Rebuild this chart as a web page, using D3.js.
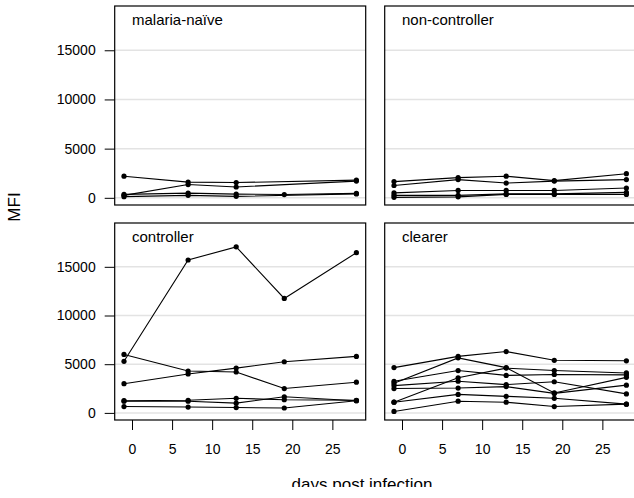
<!DOCTYPE html>
<html><head><meta charset="utf-8">
<script src="https://cdn.jsdelivr.net/npm/d3@7"></script>
<style>body{margin:0;background:#fff;} svg{display:block;font-family:"Liberation Sans",Arial,Helvetica,sans-serif;}</style>
</head><body>
<script>
const days = [-1, 7, 13, 19, 28];
const panelNames = ["malaria-naïve", "non-controller", "controller", "clearer"];
const xTicks = [0, 5, 10, 15, 20, 25];
const yTicks = [0, 5000, 10000, 15000];

const naiveSeries = [
  [2200, 1600, 1550, null, 1800],
  [250, 1350, 1100, null, 1700],
  [350, 480, 380, 330, 450],
  [120, 250, 150, null, 400]
];
const nonControllerSeries = [
  [1650, 2050, 2200, 1750, 2450],
  [1250, 1850, 1500, 1700, 1850],
  [500, 750, 750, 750, 1000],
  [250, 250, 400, 400, 550],
  [50, 100, 350, 350, 350]
];
const controllerSeries = [
  [5300, 15700, 17050, 11750, 16450],
  [6000, 4300, 4200, 2500, 3150],
  [3000, 4000, 4600, 5250, 5800],
  [1250, 1300, 1500, 1350, 1300],
  [1200, 1200, 1000, 1650, 1250],
  [650, 600, 550, 500, 1250]
];
const clearerSeries = [
  [4650, 5800, 6300, 5400, 5350],
  [3050, 5650, 4650, 2050, 3650],
  [3250, 4350, 3850, 3950, 3900],
  [1100, 3600, 4600, 4350, 4100],
  [2800, 3250, 2900, 3200, 1950],
  [2500, 2550, 2700, 2000, 2850],
  [1100, 1900, 1700, 1500, 900],
  [150, 1200, 1100, 650, 900]
];
const allSeries = [naiveSeries, nonControllerSeries, controllerSeries, clearerSeries];

const W = 634, H = 498;
const svg = d3.select("body").append("svg").attr("width", W).attr("height", H);

const cols = [[114.7, 365.7], [384.7, 635.7]];
const rows = [[205, 6], [420, 223]];
const xDomain = [-2.16, 29.16];
const yDomain = [-730, 19500];

allSeries.forEach((series, i) => {
  const c = i % 2, r = Math.floor(i / 2);
  const x = d3.scaleLinear().domain(xDomain).range(cols[c]);
  const y = d3.scaleLinear().domain(yDomain).range(rows[r]);
  const g = svg.append("g");
  // grid
  g.selectAll(".grid").data(yTicks).join("line")
    .attr("x1", cols[c][0]).attr("x2", cols[c][1])
    .attr("y1", d => y(d)).attr("y2", d => y(d))
    .attr("stroke", "#e3e3e3").attr("stroke-width", 1.5);
  // lines
  const line = d3.line().x(d => x(d[0])).y(d => y(d[1]));
  series.forEach(s => {
    const pts = days.map((d, k) => [d, s[k]]).filter(p => p[1] != null);
    g.append("path").attr("d", line(pts)).attr("fill", "none")
      .attr("stroke", "#000").attr("stroke-width", 1.1);
    g.selectAll(null).data(pts).join("circle")
      .attr("cx", p => x(p[0])).attr("cy", p => y(p[1])).attr("r", 2.6).attr("fill", "#000");
  });
  // border
  g.append("rect").attr("x", cols[c][0]).attr("y", rows[r][1])
    .attr("width", cols[c][1] - cols[c][0]).attr("height", rows[r][0] - rows[r][1])
    .attr("fill", "none").attr("stroke", "#000").attr("stroke-width", 1.2);
  // label
  g.append("text").attr("x", x(0)).attr("y", rows[r][1] + 19)
    .attr("font-size", 15).text(panelNames[i]);
  // y axis
  if (c === 0) {
    const ax = g.append("g").attr("transform", `translate(${cols[c][0]},0)`)
      .call(d3.axisLeft(y).tickValues(yTicks).tickSize(10).tickPadding(9).tickFormat(d3.format("d")));
    ax.select(".domain").remove();
    ax.selectAll("text").attr("font-size", 14).attr("font-family", null).attr("fill", "#000");
    ax.selectAll("line").attr("stroke", "#000").attr("stroke-width", 1);
  }
  // x axis
  if (r === 1) {
    const ax = g.append("g").attr("transform", `translate(0,${rows[r][0]})`)
      .call(d3.axisBottom(x).tickValues(xTicks).tickSize(10).tickPadding(14));
    ax.select(".domain").remove();
    ax.selectAll("text").attr("font-size", 14).attr("font-family", null).attr("fill", "#000");
    ax.selectAll("line").attr("stroke", "#000").attr("stroke-width", 1);
  }
});

svg.append("text").attr("x", 362).attr("y", 490).attr("text-anchor", "middle")
  .attr("font-size", 17).text("days post infection");
svg.append("text").attr("transform", "translate(20,207) rotate(-90)").attr("text-anchor", "middle")
  .attr("font-size", 17).text("MFI");
svg.append("rect").attr("x", 0).attr("y", 487).attr("width", W).attr("height", H - 487).attr("fill", "#fff");
</script>
</body></html>
